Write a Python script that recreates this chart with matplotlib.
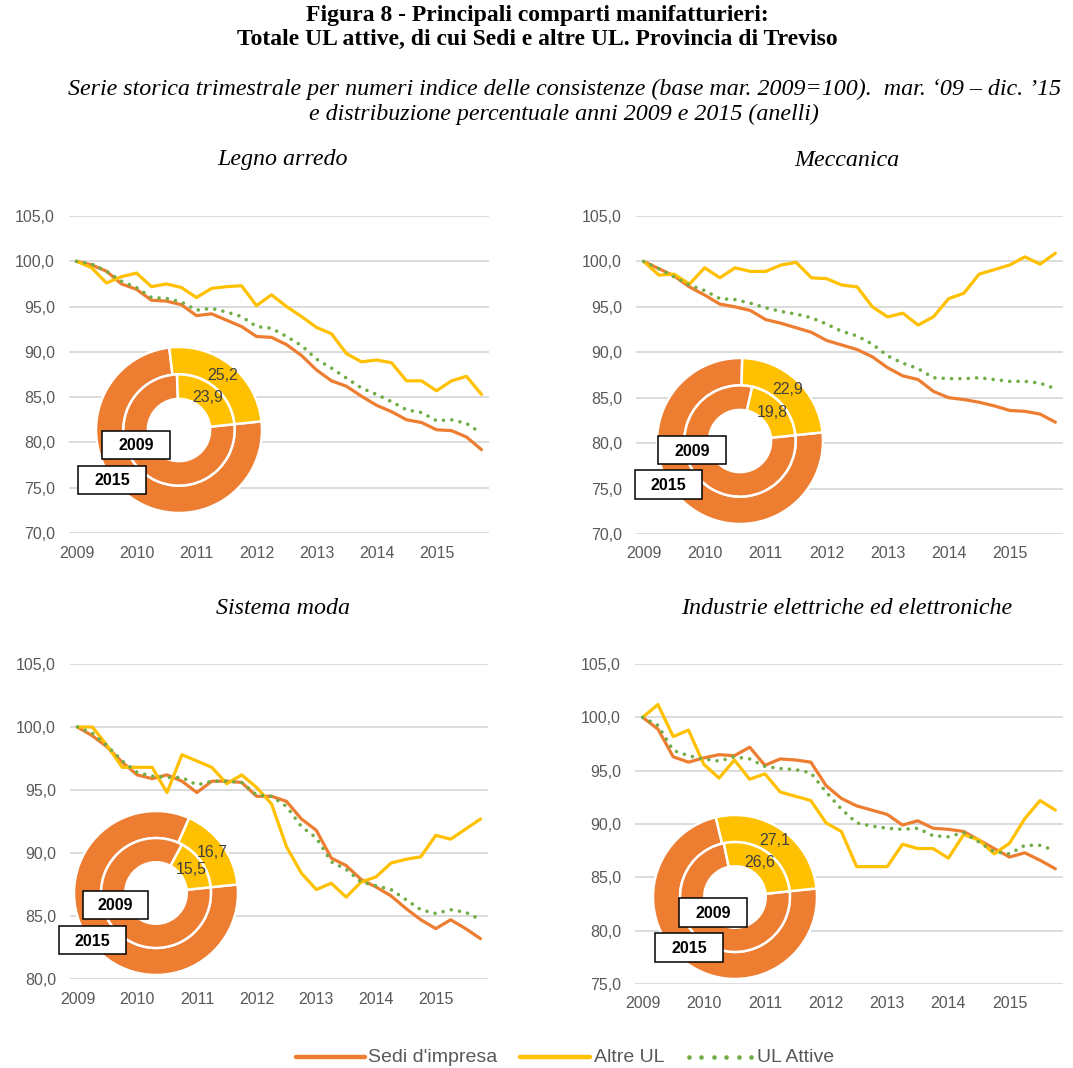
import matplotlib
matplotlib.use("Agg")
import matplotlib.pyplot as plt
from matplotlib.patches import Rectangle, Circle
from matplotlib.lines import Line2D
from matplotlib import font_manager
import numpy as np

W, H = 1073, 1068

# ---------------- data ----------------
quarters = list(range(28))  # mar 2009 ... dic 2015
year_ticks = [0, 4, 8, 12, 16, 20, 24]
year_labels = ["2009", "2010", "2011", "2012", "2013", "2014", "2015"]

titles = ["Legno arredo", "Meccanica", "Sistema moda",
          "Industrie elettriche ed elettroniche"]

legno_sedi = [100, 99.6, 98.9, 97.5, 96.9, 95.7, 95.6, 95.2, 94.0, 94.2, 93.5, 92.8, 91.7, 91.6,
              90.8, 89.6, 88.0, 86.8, 86.2, 85.1, 84.1, 83.4, 82.5, 82.2, 81.4, 81.3, 80.6, 79.2]
legno_altre = [100, 99.3, 97.6, 98.3, 98.7, 97.2, 97.5, 97.1, 96.0, 97.0, 97.2, 97.3, 95.1, 96.3,
               95.0, 93.9, 92.7, 92.0, 89.8, 88.9, 89.1, 88.8, 86.8, 86.8, 85.7, 86.8, 87.3, 85.3]
legno_attive = [100, 99.7, 98.9, 97.8, 97.1, 96.0, 95.9, 95.5, 94.6, 94.8, 94.4, 93.9, 92.8, 92.6,
                91.7, 90.7, 89.2, 88.2, 87.1, 86.0, 85.3, 84.5, 83.6, 83.3, 82.4, 82.5, 82.1, 81.0]

mecc_sedi = [100, 99.2, 98.4, 97.2, 96.3, 95.3, 95.0, 94.6, 93.6, 93.2, 92.7, 92.2, 91.3, 90.8,
             90.3, 89.5, 88.3, 87.4, 87.0, 85.7, 85.0, 84.8, 84.5, 84.1, 83.6, 83.5, 83.2, 82.3]
mecc_altre = [100, 98.5, 98.6, 97.5, 99.3, 98.2, 99.3, 98.9, 98.9, 99.6, 99.9, 98.2, 98.1, 97.4,
              97.2, 95.0, 93.9, 94.3, 93.0, 93.9, 95.9, 96.5, 98.6, 99.1, 99.6, 100.5, 99.7, 100.9]
mecc_attive = [100, 99.2, 98.3, 97.4, 96.8, 95.9, 95.8, 95.4, 94.9, 94.5, 94.2, 93.8, 93.1, 92.3,
               91.8, 90.9, 89.6, 88.8, 88.2, 87.2, 87.1, 87.1, 87.2, 87.0, 86.8, 86.8, 86.6, 86.0]

moda_sedi = [100, 99.3, 98.4, 97.2, 96.2, 95.9, 96.2, 95.7, 94.8, 95.7, 95.7, 95.6, 94.5, 94.5,
             94.1, 92.7, 91.8, 89.6, 89.0, 87.9, 87.3, 86.6, 85.6, 84.7, 84.0, 84.7, 84.0, 83.2]
moda_altre = [100, 100, 98.5, 96.8, 96.8, 96.8, 94.8, 97.8, 97.3, 96.8, 95.5, 96.2, 95.2, 93.9,
              90.5, 88.4, 87.1, 87.6, 86.5, 87.7, 88.1, 89.2, 89.5, 89.7, 91.4, 91.1, 91.9, 92.7]
moda_attive = [100, 99.5, 98.5, 97.3, 96.4, 96.1, 96.0, 96.0, 95.4, 95.7, 95.7, 95.6, 94.6, 94.5,
               93.7, 92.1, 91.2, 89.3, 88.7, 87.7, 87.4, 87.1, 86.3, 85.5, 85.2, 85.5, 85.3, 84.7]

elet_sedi = [100, 98.9, 96.3, 95.8, 96.2, 96.5, 96.4, 97.2, 95.5, 96.1, 96.0, 95.8, 93.6, 92.4,
             91.7, 91.3, 90.9, 89.9, 90.3, 89.6, 89.5, 89.3, 88.5, 87.7, 86.9, 87.3, 86.6, 85.8]
elet_altre = [100, 101.2, 98.2, 98.8, 95.6, 94.3, 96.0, 94.2, 94.7, 93.0, 92.6, 92.2, 90.1, 89.3,
              86.0, 86.0, 86.0, 88.1, 87.7, 87.7, 86.8, 89.0, 88.5, 87.2, 88.2, 90.5, 92.2, 91.3]
elet_attive = [100, 99.25, 96.9, 96.4, 96.1, 95.9, 96.3, 96.1, 95.4, 95.2, 95.1, 94.8, 93.0, 91.4,
               90.1, 89.8, 89.6, 89.5, 89.6, 88.9, 88.8, 89.2, 88.3, 87.4, 87.2, 88.0, 88.0, 87.5]

# donut: share (%) of "Altre UL" in 2015 (outer ring) and 2009 (inner ring)
altre_share_2015 = [25.2, 22.9, 16.7, 27.1]
altre_share_2009 = [23.9, 19.8, 15.5, 26.6]

series_sedi = [legno_sedi, mecc_sedi, moda_sedi, elet_sedi]
series_altre = [legno_altre, mecc_altre, moda_altre, elet_altre]
series_attive = [legno_attive, mecc_attive, moda_attive, elet_attive]
y_limits = [(70, 105), (70, 105), (80, 105), (75, 105)]

ORANGE = "#ED7D31"
YELLOW = "#FFC000"
GREEN = "#70AD47"
GRID = "#D9D9D9"
TICK = "#595959"

sans = ["Liberation Sans", "DejaVu Sans"]
serif = ["Liberation Serif", "DejaVu Serif"]
names = {f.name for f in font_manager.fontManager.ttflist}
narrow = ["Liberation Sans Narrow"] + sans if "Liberation Sans Narrow" in names else sans

fig = plt.figure(figsize=(W / 100, H / 100), dpi=100)
fig.patch.set_facecolor("white")


def rect_px(x0, y0, x1, y1):
    return [x0 / W, 1 - y1 / H, (x1 - x0) / W, (y1 - y0) / H]


# ---------------- titles ----------------
fig.text(537 / W, 1 - 15 / H, "Figura 8 - Principali comparti manifatturieri:",
         ha="center", va="center", family=serif, weight="bold", fontsize=17)
fig.text(537 / W, 1 - 39 / H, "Totale UL attive, di cui Sedi e altre UL. Provincia di Treviso",
         ha="center", va="center", family=serif, weight="bold", fontsize=17)
fig.text(565 / W, 1 - 89 / H,
         "Serie storica trimestrale per numeri indice delle consistenze (base mar. 2009=100).  mar. \u201809 \u2013 dic. \u201915",
         ha="center", va="center", family=serif, style="italic", fontsize=17.3)
fig.text(564 / W, 1 - 114 / H,
         "e distribuzione percentuale anni 2009 e 2015 (anelli)",
         ha="center", va="center", family=serif, style="italic", fontsize=17.3)

# ---------------- panels ----------------
axes_px = [(69, 216, 489, 533), (636, 216, 1063, 534),
           (70, 664, 488, 979), (635, 664, 1063, 984)]
title_px = [(283, 160), (847, 160), (283, 609), (847, 609)]
donut_px = [(179, 430, 83), (740, 441, 83), (156, 893, 82), (735, 897, 82)]
box_px = [[(102, 431, 170, 459, "2009"), (78, 466, 146, 494, "2015")],
          [(658, 436, 726, 464, "2009"), (635, 470, 702, 499, "2015")],
          [(83, 891, 148, 919, "2009"), (59, 926, 126, 954, "2015")],
          [(679, 898, 747, 927, "2009"), (655, 933, 723, 962, "2015")]]

for k in range(4):
    ax = fig.add_axes(rect_px(*axes_px[k]))
    ax.plot(quarters, series_sedi[k], color=ORANGE, lw=2.3, solid_capstyle="round",
            solid_joinstyle="round", zorder=3)
    ax.plot(quarters, series_altre[k], color=YELLOW, lw=2.3, solid_capstyle="round",
            solid_joinstyle="round", zorder=3)
    ax.plot(quarters, series_attive[k], color=GREEN, lw=2.6, linestyle=(0, (0.01, 2.3)),
            dash_capstyle="round", zorder=4)
    ax.set_xlim(-0.5, 27.5)
    lo, hi = y_limits[k]
    ax.set_ylim(lo, hi)
    ax.set_yticks(np.arange(lo, hi + 0.1, 5))
    ax.set_yticklabels([f"{v:.1f}".replace(".", ",") for v in np.arange(lo, hi + 0.1, 5)])
    ax.set_xticks(year_ticks)
    ax.set_xticklabels(year_labels)
    ax.grid(axis="y", color=GRID, lw=1.3)
    ax.set_axisbelow(True)
    for s in ax.spines.values():
        s.set_visible(False)
    ax.tick_params(length=0, labelsize=11.5, labelcolor=TICK)
    ax.tick_params(axis="y", pad=10)
    ax.tick_params(axis="x", pad=9)
    for t in ax.get_xticklabels() + ax.get_yticklabels():
        t.set_family(sans)
    ax.patch.set_alpha(0)

    tx, ty = title_px[k]
    fig.text(tx / W, 1 - ty / H, titles[k], ha="center", va="center",
             family=serif, style="italic", fontsize=17.3)

    # donut
    cx, cy, r = donut_px[k]
    axd = fig.add_axes(rect_px(cx - r, cy - r, cx + r, cy + r), zorder=2)
    axd.add_patch(Circle((0, 0), 1.0, fc="white", ec="none", zorder=0))
    o15 = altre_share_2015[k]
    o09 = altre_share_2009[k]
    wp = dict(edgecolor="white", linewidth=1.8)
    axd.pie([100 - o15, o15], radius=1.0, colors=[ORANGE, YELLOW], startangle=6,
            counterclock=False, wedgeprops=dict(width=0.33, **wp))
    axd.pie([100 - o09, o09], radius=0.67, colors=[ORANGE, YELLOW], startangle=6,
            counterclock=False, wedgeprops=dict(width=0.295, **wp))
    for share, rad in ((o15, 0.845), (o09, 0.52)):
        ang = np.deg2rad(6 + 360 * share / 100 / 2)
        axd.text(rad * np.cos(ang), rad * np.sin(ang), f"{share:.1f}".replace(".", ","),
                 ha="center", va="center", fontsize=11.5, color="#404040", family=sans)
    axd.set_xlim(-1, 1)
    axd.set_ylim(-1, 1)
    axd.set_aspect("auto")
    axd.axis("off")

    for (x0, y0, x1, y1, lab) in box_px[k]:
        fig.add_artist(Rectangle((x0 / W, 1 - y1 / H), (x1 - x0) / W, (y1 - y0) / H,
                                 transform=fig.transFigure, fc="white", ec="black",
                                 lw=1.1, zorder=10))
        fig.text((x0 + x1) / 2 / W, 1 - ((y0 + y1) / 2 + 1) / H, lab, ha="center", va="center",
                 fontsize=11.5, weight="bold", family=sans, zorder=11)

# ---------------- legend ----------------
ly = 1 - 1057 / H
legend_items = [("Sedi d'impresa", ORANGE, "-", 296, 365, 368),
                ("Altre UL", YELLOW, "-", 520, 590, 594),
                ("UL Attive", GREEN, ":", 689, 751, 757)]
for lab, col, ls, x0, x1, tx in legend_items:
    if ls == "-":
        fig.add_artist(Line2D([x0 / W, x1 / W], [ly, ly], transform=fig.transFigure,
                              color=col, lw=3.2, solid_capstyle="round"))
    else:
        xs = np.linspace(x0, x1, 6) / W
        fig.add_artist(Line2D(xs, [ly] * 6, transform=fig.transFigure, linestyle="none",
                              marker="o", markersize=3.3, color=col, markeredgewidth=0))
    fig.text(tx / W, ly, lab, ha="left", va="center", fontsize=14, color=TICK,
             family=narrow)

fig.savefig("out.png", dpi=100, facecolor="white")
